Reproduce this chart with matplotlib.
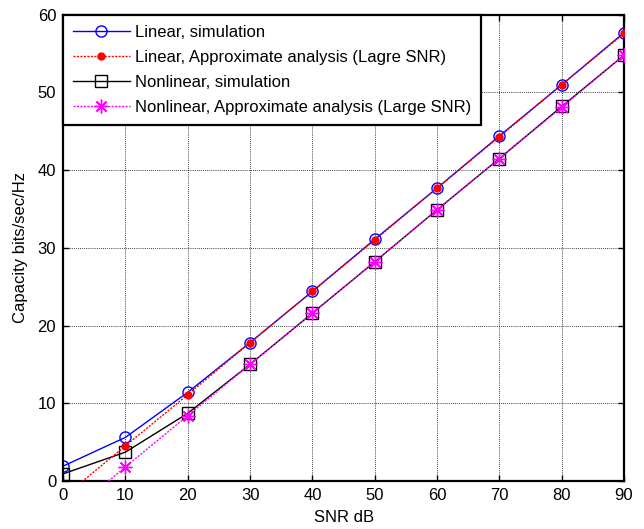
import matplotlib
matplotlib.use("Agg")
import matplotlib.pyplot as plt

plt.rcParams['font.family'] = ['Liberation Sans', 'DejaVu Sans']

snr_db = [0, 10, 20, 30, 40, 50, 60, 70, 80, 90]
linear_sim = [1.9, 5.6, 11.4, 17.8, 24.4, 31.1, 37.7, 44.4, 51.0, 57.7]
linear_approx = [-2.1, 4.5, 11.1, 17.8, 24.4, 31.0, 37.7, 44.3, 51.0, 57.6]
nonlinear_sim = [0.9, 3.7, 8.7, 15.0, 21.6, 28.2, 34.9, 41.5, 48.2, 54.8]
nonlinear_approx = [-4.9, 1.8, 8.4, 15.0, 21.6, 28.2, 34.9, 41.5, 48.1, 54.8]

labels = ['Linear, simulation',
          'Linear, Approximate analysis (Lagre SNR)',
          'Nonlinear, simulation',
          'Nonlinear, Approximate analysis (Large SNR)']
xticks = [0, 10, 20, 30, 40, 50, 60, 70, 80, 90]
yticks = [0, 10, 20, 30, 40, 50, 60]

fig = plt.figure(figsize=(6.44, 5.29), dpi=100)
ax = fig.add_axes([0.098, 0.091, 0.871, 0.881])

ax.plot(snr_db, linear_sim, color='#0000ff', lw=1.0, marker='o', ms=8,
        mfc='none', mec='#0000ff', mew=1.0, label=labels[0], zorder=3)
ax.plot(snr_db, linear_approx, color='#ff0000', lw=1.0, ls=(0, (1.5, 1)), marker='.', ms=10,
        mfc='#ff0000', mec='#ff0000', label=labels[1], zorder=4)
ax.plot(snr_db, nonlinear_sim, color='black', lw=1.0, marker='s', ms=8,
        mfc='none', mec='black', mew=1.0, label=labels[2], zorder=3)
ax.plot(snr_db, nonlinear_approx, color='#ff00ff', lw=1.0, ls=(0, (1.5, 1)), marker=(8, 2, 0), ms=10,
        mfc='#ff00ff', mec='#ff00ff', mew=1.0, label=labels[3], zorder=4)

ax.set_xlim(0, 90)
ax.set_ylim(0, 60)
ax.set_xticks(xticks)
ax.set_yticks(yticks)
ax.grid(True, color='black', ls=(0, (1, 1.5)), lw=0.6)
ax.tick_params(direction='in', top=True, right=True, labelsize=12, length=4, width=1, pad=5)
for s in ax.spines.values():
    s.set_linewidth(1.6)

ax.set_xlabel('SNR dB', fontsize=12, labelpad=5)
ax.set_ylabel('Capacity bits/sec/Hz', fontsize=12, labelpad=7)

leg = ax.legend(loc='upper left', fontsize=12, fancybox=False, framealpha=1,
                edgecolor='black', borderaxespad=0, handlelength=3.4,
                borderpad=0.6, labelspacing=0.6, handletextpad=0.3)
leg.get_frame().set_linewidth(1.6)

fig.savefig('out.png', dpi=100)
